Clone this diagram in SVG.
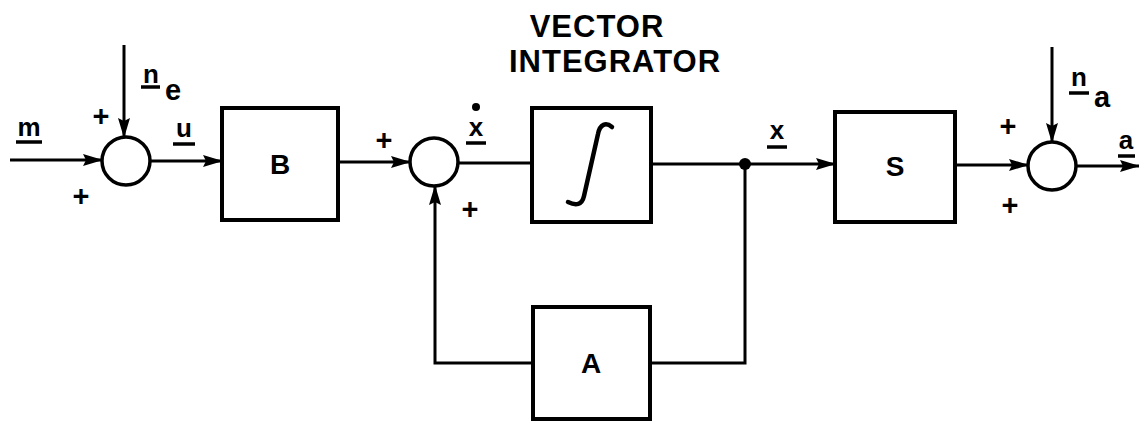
<svg xmlns="http://www.w3.org/2000/svg" width="1139" height="421" viewBox="0 0 1139 421">
<style>
.box{fill:none;stroke:#000;stroke-width:4}
.sum{fill:#fff;stroke:#000;stroke-width:3.5}
.w{fill:none;stroke:#000;stroke-width:3}
.ul{stroke:#000;stroke-width:3.5}
.lbl{font-family:"Liberation Sans",Arial,sans-serif;font-weight:bold;fill:#000}
.big{font-size:28px;text-anchor:middle}
.sm{font-size:26px;text-anchor:middle}
.sub{font-size:29px;text-anchor:middle}
.plus{font-size:29px;text-anchor:middle}
.title{font-size:31px;text-anchor:middle;letter-spacing:1px}
</style>
<defs>
<marker id="arr" markerUnits="userSpaceOnUse" markerWidth="20" markerHeight="12" refX="19" refY="6" orient="auto">
<path d="M0,0 L20,6 L0,12 L3,6 Z" fill="#000"/>
</marker>
</defs>
<rect width="1139" height="421" fill="#fff"/>

<g id="connectors">
<line class="w" x1="10" y1="160" x2="102" y2="160" marker-end="url(#arr)"/>
<line class="w" x1="124" y1="45" x2="124" y2="137" marker-end="url(#arr)"/>
<line class="w" x1="150" y1="161" x2="222" y2="161" marker-end="url(#arr)"/>
<line class="w" x1="338" y1="162" x2="410" y2="162" marker-end="url(#arr)"/>
<line class="w" x1="458" y1="163" x2="532" y2="163"/>
<line class="w" x1="651" y1="164" x2="835" y2="164" marker-end="url(#arr)"/>
<circle cx="745" cy="164" r="6" fill="#000"/>
<polyline class="w" points="745,164 745,363 651,363"/>
<polyline class="w" points="533,363 435,363 435,186" marker-end="url(#arr)"/>
<line class="w" x1="955" y1="165" x2="1028" y2="165" marker-end="url(#arr)"/>
<line class="w" x1="1052" y1="47" x2="1052" y2="142" marker-end="url(#arr)"/>
<line class="w" x1="1076" y1="166" x2="1139" y2="166" marker-end="url(#arr)"/>
</g>

<g id="sum1">
<circle class="sum" cx="126" cy="161" r="24"/>
<text class="lbl plus" x="101" y="126">+</text>
<text class="lbl plus" x="81" y="206">+</text>
</g>

<g id="label-m">
<text class="lbl sm" x="29" y="136">m</text>
<line class="ul" x1="16" y1="142" x2="42" y2="142"/>
</g>
<g id="label-ne">
<text class="lbl sm" x="151" y="83">n</text>
<line class="ul" x1="141" y1="87" x2="160" y2="87"/>
<text class="lbl sub" x="173" y="100">e</text>
</g>
<g id="label-u">
<text class="lbl sm" x="184" y="137">u</text>
<line class="ul" x1="173" y1="144" x2="195" y2="144"/>
</g>

<g id="B">
<rect class="box" x="222" y="108" width="116" height="112"/>
<text class="lbl big" x="280" y="174">B</text>
</g>

<g id="sum2">
<circle class="sum" cx="434" cy="162" r="24"/>
<text class="lbl plus" x="384" y="150">+</text>
<text class="lbl plus" x="470" y="219">+</text>
</g>

<g id="label-xdot">
<circle cx="476" cy="107" r="4" fill="#000"/>
<text class="lbl sm" x="476" y="136">x</text>
<line class="ul" x1="466" y1="143" x2="486" y2="143"/>
</g>

<g id="title">
<text class="lbl title" x="597" y="37">VECTOR</text>
<text class="lbl title" x="615" y="72">INTEGRATOR</text>
</g>

<g id="integrator">
<rect class="box" x="532" y="108" width="119" height="114"/>
<path d="M612,127 C606,122 600,124 598,134 L584,196 C582,205 576,206 568,202" fill="none" stroke="#000" stroke-width="4.5" stroke-linecap="round"/>
</g>

<g id="label-x">
<text class="lbl sm" x="777" y="139">x</text>
<line class="ul" x1="767" y1="147" x2="787" y2="147"/>
</g>

<g id="S">
<rect class="box" x="835" y="112" width="120" height="110"/>
<text class="lbl big" x="895" y="176">S</text>
</g>

<g id="sum3">
<circle class="sum" cx="1052" cy="166" r="24"/>
<text class="lbl plus" x="1008" y="136">+</text>
<text class="lbl plus" x="1010" y="215">+</text>
</g>

<g id="label-na">
<text class="lbl sm" x="1079" y="86">n</text>
<line class="ul" x1="1069" y1="93" x2="1089" y2="93"/>
<text class="lbl sub" x="1102" y="107">a</text>
</g>
<g id="label-a">
<text class="lbl sm" x="1126" y="149">a</text>
<line class="ul" x1="1118" y1="156" x2="1135" y2="156"/>
</g>

<g id="A">
<rect class="box" x="533" y="307" width="117" height="112"/>
<text class="lbl big" x="591" y="373">A</text>
</g>
</svg>
